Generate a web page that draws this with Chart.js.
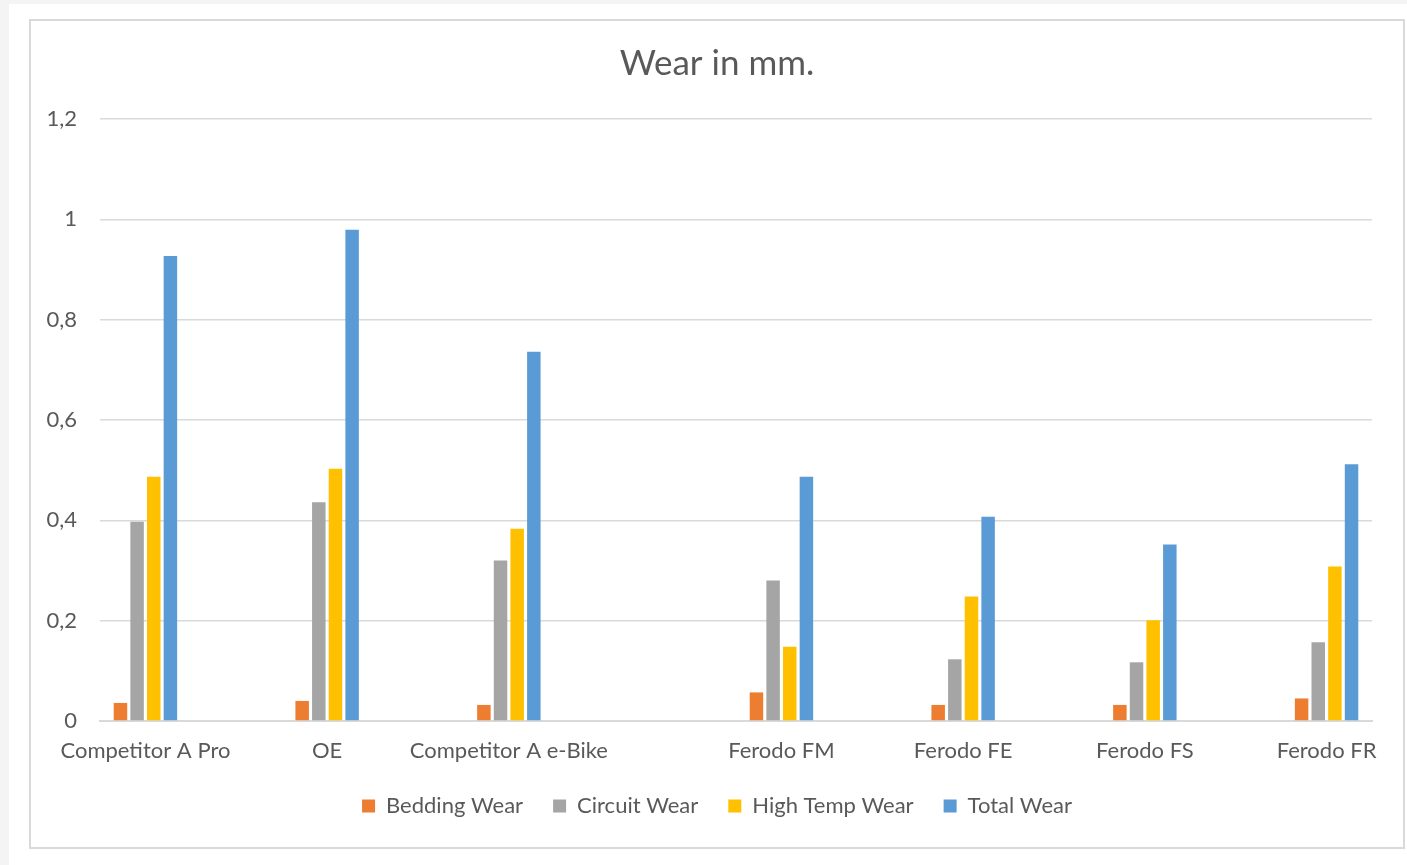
<!DOCTYPE html>
<html>
<head>
<meta charset="utf-8">
<script src="https://cdn.jsdelivr.net/npm/chart.js@4/dist/chart.umd.min.js"></script>
<style>
    html, body { margin: 0; padding: 0; background: #f4f4f4; width: 1407px; height: 865px; overflow: hidden; }
    #sheet { position: absolute; left: 9px; top: 4px; width: 1398px; height: 861px; background: #fff; }
    #frame { position: absolute; left: 29px; top: 19px; width: 1372px; height: 826px; border: 2px solid #d9d9d9; background: #fff; }
    canvas { display: block; }
</style>
</head>
<body>
<div id="sheet"></div>
<div id="frame"><canvas id="wearChart" width="1372" height="826"></canvas></div>
<script>
// blank categories are spacer rows in the source sheet
const CATEGORIES = ['Competitor A Pro', '', 'OE', '', 'Competitor A e-Bike', '', '', 'Ferodo FM', '', 'Ferodo FE', '', 'Ferodo FS', '', 'Ferodo FR'];
const BEDDING   = [0.036, null, 0.040, null, 0.032, null, null, 0.057, null, 0.032, null, 0.032, null, 0.045];
const CIRCUIT   = [0.397, null, 0.436, null, 0.320, null, null, 0.280, null, 0.123, null, 0.117, null, 0.157];
const HIGH_TEMP = [0.487, null, 0.503, null, 0.383, null, null, 0.148, null, 0.248, null, 0.201, null, 0.308];
const TOTAL     = [0.927, null, 0.979, null, 0.736, null, null, 0.487, null, 0.407, null, 0.352, null, 0.512];
const Y_TICKS = [0, 0.2, 0.4, 0.6, 0.8, 1, 1.2];

const TEXT = '#595959';
const GRID = '#d9d9d9';
const FONT = 'Lato, "Open Sans", sans-serif';

const SERIES = [
    { label: 'Bedding Wear', data: BEDDING, color: '#ed7d31' },
    { label: 'Circuit Wear', data: CIRCUIT, color: '#a5a5a5' },
    { label: 'High Temp Wear', data: HIGH_TEMP, color: '#ffc000' },
    { label: 'Total Wear', data: TOTAL, color: '#5b9bd5' }
];

new Chart(document.getElementById('wearChart'), {
    type: 'bar',
    data: {
        labels: CATEGORIES,
        datasets: SERIES.map(s => ({
            label: s.label, data: s.data, backgroundColor: s.color, borderWidth: 0,
            categoryPercentage: 0.733, barPercentage: 0.81
        }))
    },
    options: {
        responsive: false, animation: false,
        layout: { padding: { left: 0, right: 0, top: 0, bottom: 20 } },
        plugins: {
            title: {
                display: true, text: 'Wear in mm.', color: TEXT,
                font: { family: FONT, size: 35, weight: 'normal' },
                padding: { top: 22, bottom: 34 }
            },
            legend: {
                position: 'bottom',
                labels: {
                    color: TEXT, font: { family: FONT, size: 22 },
                    boxWidth: 13, boxHeight: 13, padding: 30
                }
            },
            tooltip: { enabled: false }
        },
        scales: {
            x: {
                grid: { display: false, drawTicks: false },
                border: { color: GRID, width: 2 },
                ticks: {
                    color: TEXT, font: { family: FONT, size: 22 },
                    autoSkip: false, maxRotation: 0, minRotation: 0, padding: 17
                },
                afterFit: s => { s.height = 44; }
            },
            y: {
                min: 0, max: 1.2,
                afterBuildTicks: s => { s.ticks = Y_TICKS.map(v => ({ value: v })); },
                grid: { color: GRID, lineWidth: 1.5, drawTicks: false },
                border: { display: false },
                ticks: {
                    color: TEXT, font: { family: FONT, size: 22 }, padding: 23,
                    callback: v => String(Number(v.toFixed(1))).replace('.', ',')
                },
                afterFit: s => { s.width = 69; }
            },
            // empty right-hand strip so the plot ends where the original does
            spacer: {
                type: 'linear', position: 'right',
                grid: { display: false, drawTicks: false },
                border: { display: false },
                ticks: { display: false },
                afterFit: s => { s.width = 31; }
            }
        }
    }
});
</script>
</body>
</html>
